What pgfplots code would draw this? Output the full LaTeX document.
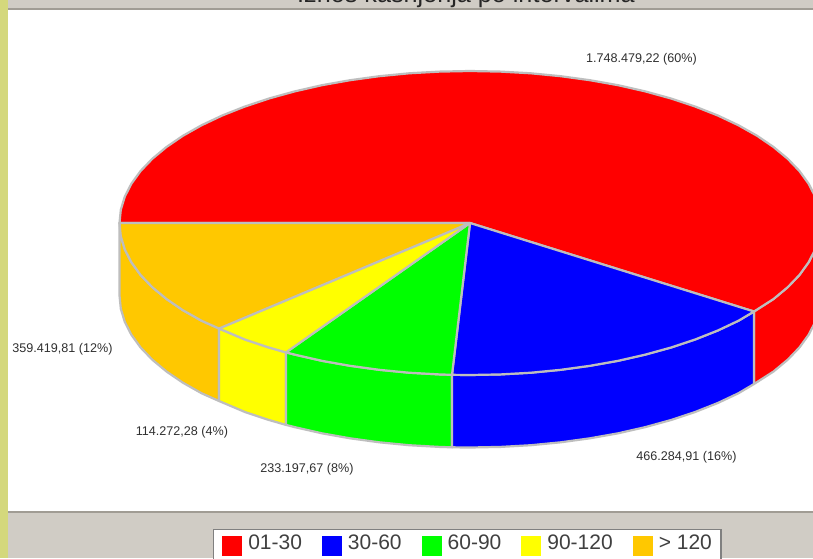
\documentclass[border=0pt]{standalone}
\usepackage{fontspec}
\setmainfont{Liberation Sans}
\usepackage{pgfplots}
\pgfplotsset{compat=1.18}
\definecolor{panel}{HTML}{D0CCC5}
\definecolor{panelline}{HTML}{A09C94}
\definecolor{strip}{HTML}{D4D87C}
\definecolor{edge}{HTML}{BEBEBE}
\definecolor{redslice}{HTML}{FF0000}
\definecolor{blueslice}{HTML}{0000FF}
\definecolor{greenslice}{HTML}{00FF00}
\definecolor{yellowslice}{HTML}{FFFF00}
\definecolor{orangeslice}{HTML}{FFC800}
\definecolor{labeltext}{HTML}{303030}
\pgfplotsset{
  slice/.style={fill=#1, draw=edge, line width=2.2pt, line join=round, mark=none},
  panelrect/.style={fill=#1, draw=none, mark=none, forget plot},
  swatch/.style={
    legend image code/.code={\fill[#1,draw=none] (0pt,-13pt) rectangle (20pt,7pt);}
  },
}
\newcommand{\lab}[1]{\fontsize{12.6}{14}\selectfont #1}
\begin{document}
\begin{tikzpicture}
\useasboundingbox (0,0) rectangle (813pt,558pt);
\begin{axis}[
    at={(0,0)}, anchor=south west,
    scale only axis,
    width=813pt, height=558pt,
    xmin=0, xmax=813, ymin=0, ymax=558,
    y dir=reverse,
    axis lines=none,
    clip=true,
    legend columns=5,
    legend cell align=left,
    legend style={
        at={(axis cs:212.5,528.5)}, anchor=north west,
        draw=gray, line width=1.5pt, fill=white,
        inner xsep=9pt, inner ysep=6pt,
        font=\fontsize{21}{23}\selectfont\color{black!75},
        /tikz/every even column/.style={column sep=20pt},
        /tikz/every odd column/.style={column sep=6pt},
        nodes={inner sep=0pt},
    },
]
% panels
\addplot[panelrect=white] coordinates {(0,0) (813,0) (813,558) (0,558)} -- cycle;
\addplot[panelrect=panel] coordinates {(0,0) (813,0) (813,8) (0,8)} -- cycle;
\addplot[panelrect=panelline] coordinates {(0,8) (813,8) (813,9.5) (0,9.5)} -- cycle;
\addplot[panelrect=panel] coordinates {(0,512) (813,512) (813,558) (0,558)} -- cycle;
\addplot[panelrect=panelline] coordinates {(0,511) (813,511) (813,512.5) (0,512.5)} -- cycle;
\addplot[panelrect=strip] coordinates {(0,0) (8,0) (8,558) (0,558)} -- cycle;

% side walls
\addplot[slice=redslice, forget plot] coordinates {
  (754,311.5) (773.5,299) (787.7,287.2) (799.4,275) (808.6,262.3) (815.2,249.4) (819.2,236.2) (820.5,223)
  (820.5,295.5) (819.2,308.7) (815.2,321.9) (808.6,334.8) (799.4,347.5) (787.7,359.7) (773.5,371.5) (754,384)
} -- cycle;
\addplot[slice=orangeslice, forget plot] coordinates {
  (119.5,223) (120.8,236.2) (124.8,249.4) (131.4,262.3) (140.6,275) (152.3,287.2) (166.5,299) (182.9,310.2) (201.5,320.7) (219,328.5)
  (219,401) (201.5,393.2) (182.9,382.7) (166.5,371.5) (152.3,359.7) (140.6,347.5) (131.4,334.8) (124.8,321.9) (120.8,308.7) (119.5,295.5)
} -- cycle;
\addplot[slice=yellowslice, forget plot] coordinates {
  (219,328.5) (244.7,339.4) (269,347.5) (286,352.4)
  (286,424.9) (269,420) (244.7,411.9) (219,401)
} -- cycle;
\addplot[slice=greenslice, forget plot] coordinates {
  (286,352.4) (294.7,354.6) (321.9,360.8) (350.1,365.8) (379.3,369.8) (409.1,372.7) (439.5,374.4) (452,374.8)
  (452,447.3) (439.5,446.9) (409.1,445.2) (379.3,442.3) (350.1,438.3) (321.9,433.3) (294.7,427.1) (286,424.9)
} -- cycle;
\addplot[slice=blueslice, forget plot] coordinates {
  (452,374.8) (470,375) (500.5,374.4) (530.9,372.7) (560.7,369.8) (589.9,365.8) (618.1,360.8) (645.3,354.6) (671,347.5) (695.3,339.4) (717.8,330.5) (738.5,320.7) (754,311.5)
  (754,384) (738.5,393.2) (717.8,403) (695.3,411.9) (671,420) (645.3,427.1) (618.1,433.3) (589.9,438.3) (560.7,442.3) (530.9,445.2) (500.5,446.9) (470,447.5) (452,447.3)
} -- cycle;

% top of the pie
\addplot[slice=redslice, swatch=redslice] coordinates {
  (470,223) (754,311.5) (773.5,299) (787.7,287.2) (799.4,275) (808.6,262.3) (815.2,249.4) (819.2,236.2) (820.5,223)
  (819.2,209.8) (815.2,196.6) (808.6,183.7) (799.4,171) (787.7,158.8) (773.5,147) (757.1,135.8) (738.5,125.3)
  (717.8,115.5) (695.3,106.6) (671,98.5) (645.3,91.4) (618.1,85.2) (589.9,80.2) (560.7,76.2) (530.9,73.3) (500.5,71.6)
  (470,71) (439.5,71.6) (409.1,73.3) (379.3,76.2) (350.1,80.2) (321.9,85.2) (294.7,91.4) (269,98.5) (244.7,106.6)
  (222.2,115.5) (201.5,125.3) (182.9,135.8) (166.5,147) (152.3,158.8) (140.6,171) (131.4,183.7) (124.8,196.6) (120.8,209.8) (119.5,223)
} -- cycle;
\addlegendentry{01-30}
\addplot[slice=blueslice, swatch=blueslice] coordinates {
  (470,223) (452,374.8) (470,375) (500.5,374.4) (530.9,372.7) (560.7,369.8) (589.9,365.8) (618.1,360.8) (645.3,354.6)
  (671,347.5) (695.3,339.4) (717.8,330.5) (738.5,320.7) (754,311.5)
} -- cycle;
\addlegendentry{30-60}
\addplot[slice=greenslice, swatch=greenslice] coordinates {
  (470,223) (286,352.4) (294.7,354.6) (321.9,360.8) (350.1,365.8) (379.3,369.8) (409.1,372.7) (439.5,374.4) (452,374.8)
} -- cycle;
\addlegendentry{60-90}
\addplot[slice=yellowslice, swatch=yellowslice] coordinates {
  (470,223) (219,328.5) (244.7,339.4) (269,347.5) (286,352.4)
} -- cycle;
\addlegendentry{90-120}
\addplot[slice=orangeslice, swatch=orangeslice] coordinates {
  (470,223) (119.5,223) (120.8,236.2) (124.8,249.4) (131.4,262.3) (140.6,275) (152.3,287.2) (166.5,299) (182.9,310.2) (201.5,320.7) (219,328.5)
} -- cycle;
\addlegendentry{> 120\hspace{2pt}}

% title and slice labels
\node[anchor=base, text=black!85, font=\fontsize{25.2}{27}\selectfont] at (axis cs:466,2.5) {Iznos kašnjenja po intervalima};
\node[text=labeltext] at (axis cs:641.5,59) {\lab{1.748.479,22 (60\%)}};
\node[text=labeltext] at (axis cs:62.5,349) {\lab{359.419,81 (12\%)}};
\node[text=labeltext] at (axis cs:182,432) {\lab{114.272,28 (4\%)}};
\node[text=labeltext] at (axis cs:307,469) {\lab{233.197,67 (8\%)}};
\node[text=labeltext] at (axis cs:686.5,457) {\lab{466.284,91 (16\%)}};
\end{axis}
\end{tikzpicture}
\end{document}
